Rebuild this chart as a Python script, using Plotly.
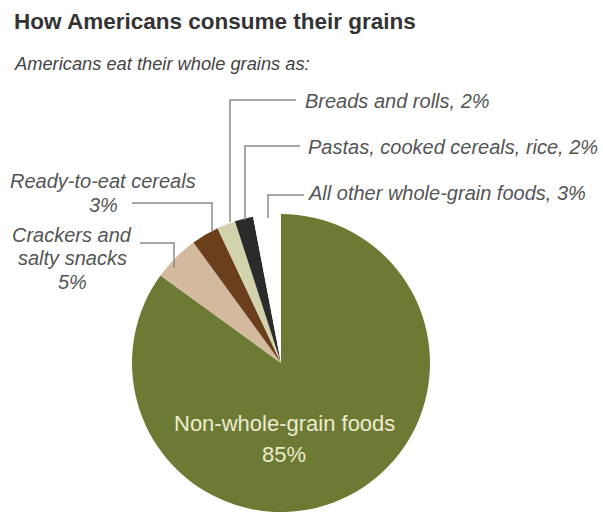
import plotly.graph_objects as go

W, H = 603, 514

categories = ["Non-whole-grain foods", "Crackers and salty snacks", "Ready-to-eat cereals",
              "Breads and rolls", "Pastas, cooked cereals, rice", "All other whole-grain foods"]
values = [85, 5, 3, 2, 2, 3]
colors = ["#6d7a33", "#d3b99e", "#6b3f1c", "#d2d3ac", "#2b2b2b", "#ffffff"]

title_text = "How Americans consume their grains"
subtitle_text = "Americans eat their whole grains as:"

def px(x):
    return x / W

def py(y):
    return 1 - y / H

cx, cy, r = 281, 363, 149

fig = go.Figure(go.Pie(
    labels=categories, values=values, sort=False, direction="clockwise", rotation=0,
    marker=dict(colors=colors, line=dict(width=0)), textinfo="none", hoverinfo="label+percent",
    domain=dict(x=[px(cx - r), px(cx + r)], y=[py(cy + r), py(cy - r)]),
    showlegend=False,
))

label_font = dict(family="Liberation Sans, Arial, sans-serif", size=20, color="#555555")

def italic(t):
    return "<i>" + t + "</i>"

annotations = [
    dict(x=px(12), y=py(22), text="<b>" + title_text + "</b>", xanchor="left",
         font=dict(family="Liberation Sans, Arial, sans-serif", size=22.5, color="#333333")),
    dict(x=px(12), y=py(63), text=italic(subtitle_text), xanchor="left",
         font=dict(family="Liberation Sans, Arial, sans-serif", size=18.3, color="#444444")),
    dict(x=px(303), y=py(101), text=italic(f"{categories[3]}, {values[3]}%"), xanchor="left", font=label_font),
    dict(x=px(306), y=py(147), text=italic(f"{categories[4]}, {values[4]}%"), xanchor="left", font=label_font),
    dict(x=px(306), y=py(193), text=italic(f"{categories[5]}, {values[5]}%"), xanchor="left", font=label_font),
    dict(x=px(103), y=py(181), text=italic(categories[2]), xanchor="center", font=label_font),
    dict(x=px(103), y=py(205), text=italic(f"{values[2]}%"), xanchor="center", font=label_font),
    dict(x=px(72), y=py(235), text=italic("Crackers and"), xanchor="center", font=label_font),
    dict(x=px(72), y=py(258), text=italic("salty snacks"), xanchor="center", font=label_font),
    dict(x=px(72), y=py(282), text=italic(f"{values[1]}%"), xanchor="center", font=label_font),
    dict(x=px(284), y=py(423), text="Non-whole-grain foods", xanchor="center",
         font=dict(family="Liberation Sans, Arial, sans-serif", size=22, color="#ecebcf")),
    dict(x=px(284), y=py(454), text=f"{values[0]}%", xanchor="center",
         font=dict(family="Liberation Sans, Arial, sans-serif", size=22, color="#ecebcf")),
]
for a in annotations:
    a.update(xref="paper", yref="paper", yanchor="middle", showarrow=False)

leaders = [
    [(296, 100), (230, 100), (230, 222)],
    [(300, 146), (245, 146), (245, 220)],
    [(304, 195), (268, 195), (268, 218)],
    [(132, 203), (212, 203), (212, 232)],
    [(140, 243), (174, 243), (174, 268)],
]
shapes = []
for pts in leaders:
    path = "M " + " L ".join(f"{px(x)},{py(y)}" for x, y in pts)
    shapes.append(dict(type="path", path=path, xref="paper", yref="paper",
                       line=dict(color="#8a8a8a", width=1.5)))

fig.update_layout(width=W, height=H, margin=dict(l=0, r=0, t=0, b=0),
                  paper_bgcolor="white", plot_bgcolor="white",
                  annotations=annotations, shapes=shapes)
fig.write_html("out.html", config={"displayModeBar": False},
               post_script="document.body.style.margin='0';document.body.style.overflow='hidden';")
